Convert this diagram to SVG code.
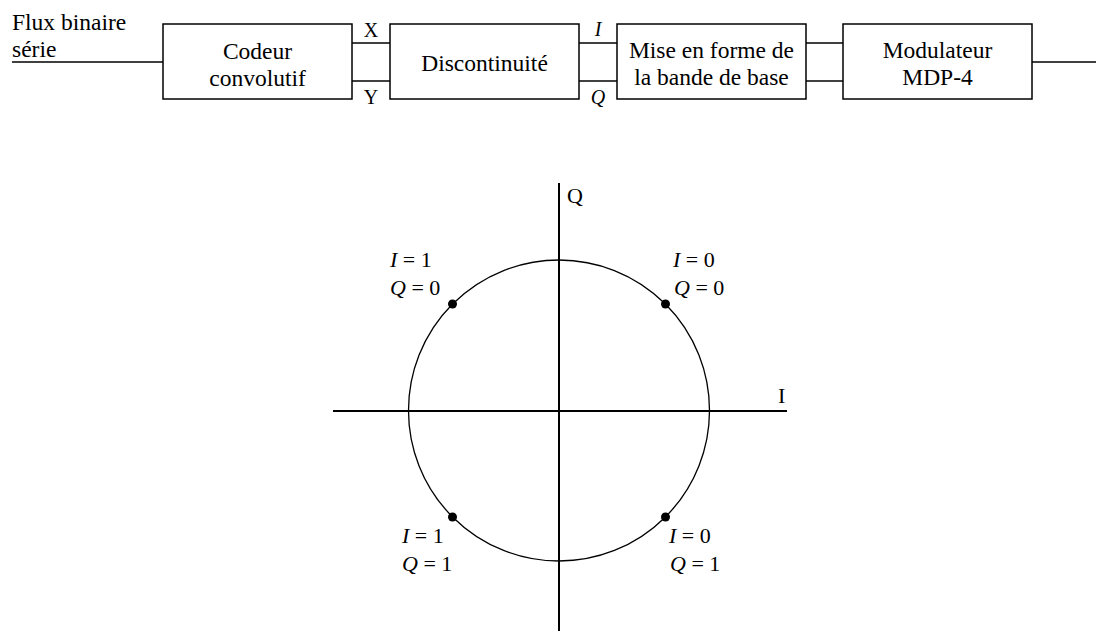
<svg xmlns="http://www.w3.org/2000/svg" width="1096" height="631" viewBox="0 0 1096 631">
<style>
  text { font-family: "Liberation Serif", "Times New Roman", serif; fill: #000; }
  .blk { font-size: 23.5px; text-anchor: middle; }
  .lbl { font-size: 23.5px; }
  .sig { font-size: 20px; text-anchor: middle; }
  .it { font-style: italic; }
  .pt { font-size: 22px; }
  .box { fill: #fff; stroke: #000; stroke-width: 1.5; }
  .wire { fill: none; stroke: #000; stroke-width: 1.5; }
  .axis { fill: none; stroke: #000; stroke-width: 2; }
  .circ { fill: none; stroke: #000; stroke-width: 1.3; }
</style>
<g id="connectors">
  <line class="wire" x1="12" y1="62" x2="163" y2="62"/>
  <line class="wire" x1="352" y1="43" x2="390" y2="43"/>
  <line class="wire" x1="352" y1="81" x2="390" y2="81"/>
  <line class="wire" x1="579" y1="43" x2="617" y2="43"/>
  <line class="wire" x1="579" y1="81" x2="617" y2="81"/>
  <line class="wire" x1="806" y1="43" x2="843" y2="43"/>
  <line class="wire" x1="806" y1="81" x2="843" y2="81"/>
  <line class="wire" x1="1032" y1="62" x2="1096" y2="62"/>
</g>
<g id="input-label">
  <text class="lbl" x="12" y="30">Flux binaire</text>
  <text class="lbl" x="12" y="57">série</text>
</g>
<g id="codeur">
  <rect class="box" x="163" y="24" width="189" height="75"/>
  <text class="blk" x="257.5" y="59">Codeur</text>
  <text class="blk" x="257.5" y="86">convolutif</text>
</g>
<g id="xy-labels">
  <text class="sig" x="371" y="37">X</text>
  <text class="sig" x="371" y="104">Y</text>
</g>
<g id="discontinuite">
  <rect class="box" x="390" y="24" width="189" height="75"/>
  <text class="blk" x="484.5" y="71">Discontinuité</text>
</g>
<g id="iq-labels">
  <text class="sig it" x="598" y="36">I</text>
  <text class="sig it" x="598" y="104">Q</text>
</g>
<g id="mise-en-forme">
  <rect class="box" x="617" y="24" width="189" height="75"/>
  <text class="blk" x="711.5" y="58">Mise en forme de</text>
  <text class="blk" x="711.5" y="85">la bande de base</text>
</g>
<g id="modulateur">
  <rect class="box" x="843" y="24" width="189" height="75"/>
  <text class="blk" x="937.5" y="58">Modulateur</text>
  <text class="blk" x="937.5" y="85">MDP-4</text>
</g>
<g id="constellation">
  <line class="axis" x1="333" y1="411" x2="787" y2="411"/>
  <line class="axis" x1="559" y1="183" x2="559" y2="631"/>
  <circle class="circ" cx="559" cy="410.5" r="150.5"/>
  <text class="pt" x="567" y="203">Q</text>
  <text class="pt" x="778" y="403">I</text>
  <circle cx="452.5" cy="304" r="4.5"/>
  <circle cx="665.5" cy="304" r="4.5"/>
  <circle cx="452.5" cy="517" r="4.5"/>
  <circle cx="665.5" cy="517" r="4.5"/>
</g>
<g id="point-labels" class="pt">
  <text x="390" y="267"><tspan class="it">I</tspan> = 1</text>
  <text x="390" y="295"><tspan class="it">Q</tspan> = 0</text>
  <text x="673" y="267"><tspan class="it">I</tspan> = 0</text>
  <text x="674" y="295"><tspan class="it">Q</tspan> = 0</text>
  <text x="402" y="543"><tspan class="it">I</tspan> = 1</text>
  <text x="402" y="571"><tspan class="it">Q</tspan> = 1</text>
  <text x="669" y="543"><tspan class="it">I</tspan> = 0</text>
  <text x="670" y="571"><tspan class="it">Q</tspan> = 1</text>
</g>
</svg>
